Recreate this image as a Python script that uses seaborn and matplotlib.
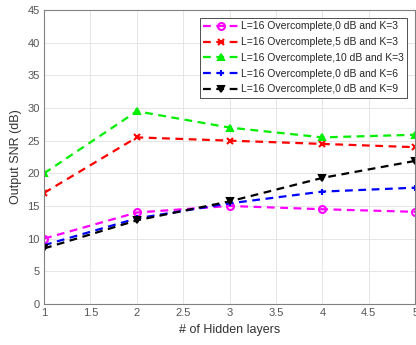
import matplotlib

matplotlib.use("Agg")
import matplotlib.pyplot as plt
import pandas as pd
import seaborn as sns

layers = [1, 2, 3, 4, 5]
snr_0db_k3 = [10.0, 14.0, 15.0, 14.5, 14.1]
snr_5db_k3 = [17.0, 25.5, 25.0, 24.5, 24.0]
snr_10db_k3 = [20.0, 29.5, 27.0, 25.5, 25.9]
snr_0db_k6 = [9.0, 13.1, 15.4, 17.2, 17.8]
snr_0db_k9 = [8.5, 12.8, 15.7, 19.3, 21.9]

labels = [
    "L=16 Overcomplete,0 dB and K=3",
    "L=16 Overcomplete,5 dB and K=3",
    "L=16 Overcomplete,10 dB and K=3",
    "L=16 Overcomplete,0 dB and K=6",
    "L=16 Overcomplete,0 dB and K=9",
]
series = [snr_0db_k3, snr_5db_k3, snr_10db_k3, snr_0db_k6, snr_0db_k9]
colors = ["#ff00ff", "#ff0000", "#00ee00", "#0000ff", "#000000"]
markers = ["o", "x", "^", "+", "v"]

sns.set_theme(style="whitegrid")
plt.rcParams["font.family"] = ["Liberation Sans", "DejaVu Sans"]

df = pd.concat(
    [pd.DataFrame({"layers": layers, "snr": s, "name": n}) for s, n in zip(series, labels)]
)

fig = plt.figure(figsize=(4.16, 3.45), dpi=100)
ax = fig.add_axes([0.106, 0.119, 0.892, 0.852])

for name, c, m in zip(labels, colors, markers):
    sub = df[df["name"] == name]
    sns.lineplot(
        data=sub, x="layers", y="snr", ax=ax, color=c, label=name,
        marker=m, markersize=5, linewidth=1.6, linestyle=(0, (3.5, 2.5)),
        markeredgewidth=1.5, markeredgecolor=c,
        markerfacecolor=c if m in ("^", "v") else "none",
    )

ax.set_xlim(1, 5)
ax.set_ylim(0, 45)
ax.set_xticks([1, 1.5, 2, 2.5, 3, 3.5, 4, 4.5, 5])
ax.set_xticklabels(["1", "1.5", "2", "2.5", "3", "3.5", "4", "4.5", "5"])
ax.set_yticks(range(0, 46, 5))
ax.set_xlabel("# of Hidden layers", fontsize=9, color="#333333")
ax.set_ylabel("Output SNR (dB)", fontsize=9, color="#333333")
ax.tick_params(axis="both", labelsize=8, colors="#555555", direction="in",
               length=3, width=0.6, pad=3)
ax.grid(True, color="#e2e2e2", linewidth=0.6)
for sp in ax.spines.values():
    sp.set_color("#808080")
    sp.set_linewidth(0.8)

leg = ax.legend(loc="upper right", fontsize=7.5, frameon=True, fancybox=False,
                edgecolor="#333333", framealpha=1, borderpad=0.35,
                handlelength=3.4, handletextpad=0.2, labelspacing=0.55,
                borderaxespad=0.75)
leg.get_frame().set_linewidth(0.6)

fig.savefig("out.png", dpi=100)
